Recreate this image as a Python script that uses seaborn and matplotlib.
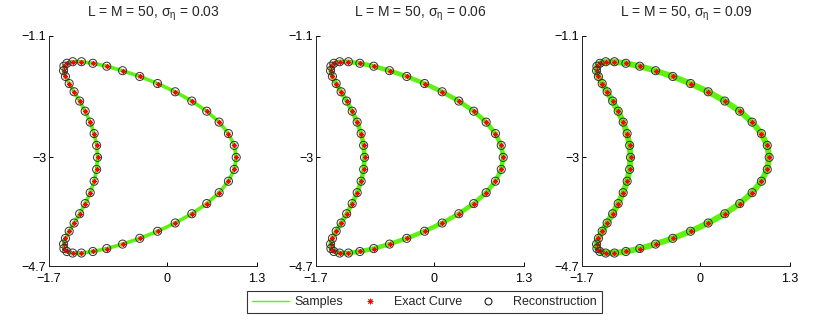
import matplotlib
matplotlib.use('Agg')
import matplotlib.pyplot as plt
from matplotlib.lines import Line2D
import seaborn as sns
import pandas as pd

# Точки кривой (одинаковые для трёх панелей), 50 узлов
curve_x = [1.000, 0.972, 0.888, 0.754, 0.575, 0.360, 0.120, -0.134, -0.391, -0.639,
           -0.867, -1.067, -1.232, -1.358, -1.442, -1.485, -1.490, -1.463, -1.409, -1.338,
           -1.258, -1.178, -1.106, -1.049, -1.013, -1.000, -1.013, -1.049, -1.106, -1.178,
           -1.258, -1.338, -1.409, -1.463, -1.490, -1.485, -1.442, -1.358, -1.232, -1.067,
           -0.867, -0.639, -0.391, -0.134, 0.120, 0.360, 0.575, 0.754, 0.888, 0.972]
curve_y = [-3.000, -2.812, -2.627, -2.448, -2.277, -2.118, -1.973, -1.844, -1.733, -1.643,
           -1.573, -1.527, -1.503, -1.503, -1.527, -1.573, -1.643, -1.733, -1.844, -1.973,
           -2.118, -2.277, -2.448, -2.627, -2.812, -3.000, -3.188, -3.373, -3.552, -3.723,
           -3.882, -4.027, -4.156, -4.267, -4.357, -4.427, -4.473, -4.497, -4.497, -4.473,
           -4.427, -4.357, -4.267, -4.156, -4.027, -3.882, -3.723, -3.552, -3.373, -3.188]

sigmas = ['0.03', '0.06', '0.09']
band_widths = [2.6, 3.3, 4.3]  # толщина "облака" выборок растёт с шумом

x_ticks = [-1.7, 0, 1.3]
y_ticks = [-4.7, -3, -1.1]
x_ticklabels = ['\u22121.7', '0', '1.3']
y_ticklabels = ['\u22124.7', '\u22123', '\u22121.1']

sns.set_style('white')
plt.rcParams['font.family'] = ['Liberation Sans', 'DejaVu Sans']
plt.rcParams['mathtext.default'] = 'regular'

df = pd.DataFrame({'x': curve_x, 'y': curve_y})
closed = pd.concat([df, df.iloc[[0]]], ignore_index=True)

green = '#5ff20f'
fig = plt.figure(figsize=(8.3, 3.22), dpi=100)
lefts = [49, 316, 582]

for i, sig in enumerate(sigmas):
    ax = fig.add_axes([lefts[i] / 830, 56 / 322, 208 / 830, 230 / 322])
    sns.lineplot(data=closed, x='x', y='y', sort=False, estimator=None,
                 color=green, linewidth=band_widths[i], ax=ax)
    sns.scatterplot(data=df, x='x', y='y', marker=(8, 2, 0), color='red',
                    s=10, linewidth=0.6, ax=ax, zorder=3)
    sns.scatterplot(data=df, x='x', y='y', marker='o', facecolor='none',
                    edgecolor='#333333', s=34, linewidth=0.7, ax=ax, zorder=4)
    ax.set_xlim(-1.7, 1.3)
    ax.set_ylim(-4.7, -1.1)
    ax.set_xticks(x_ticks)
    ax.set_xticklabels(x_ticklabels)
    ax.set_yticks(y_ticks)
    ax.set_yticklabels(y_ticklabels)
    ax.set_xlabel('')
    ax.set_ylabel('')
    ax.set_title(r'L = M = 50, $\sigma_\eta$ = ' + sig, fontsize=10, pad=14)
    for side in ['top', 'right']:
        ax.spines[side].set_visible(False)
    for side in ['left', 'bottom']:
        ax.spines[side].set_color('#222222')
        ax.spines[side].set_linewidth(0.7)
    ax.tick_params(direction='in', length=3, width=0.7, labelsize=9,
                   left=True, bottom=True, colors='black')
    ax.tick_params(axis='x', pad=5)
    ax.tick_params(axis='y', pad=2)

handles = [
    Line2D([], [], color=green, linewidth=1),
    Line2D([], [], color='red', marker=(8, 2, 0), linestyle='none',
           markersize=4, markeredgewidth=0.6),
    Line2D([], [], color='black', marker='o', markerfacecolor='none',
           linestyle='none', markersize=5, markeredgewidth=0.7),
]
leg = fig.legend(handles, ['Samples', 'Exact Curve', 'Reconstruction'],
                 loc='center', bbox_to_anchor=(424 / 830, 1 - 302 / 322), ncol=3,
                 fontsize=9, frameon=True, fancybox=False, handlelength=3.0,
                 columnspacing=0.6, handletextpad=0.45, borderpad=0.4,
                 borderaxespad=0)
leg.get_frame().set_edgecolor('black')
leg.get_frame().set_linewidth(0.8)

fig.savefig('out.png', dpi=100)
